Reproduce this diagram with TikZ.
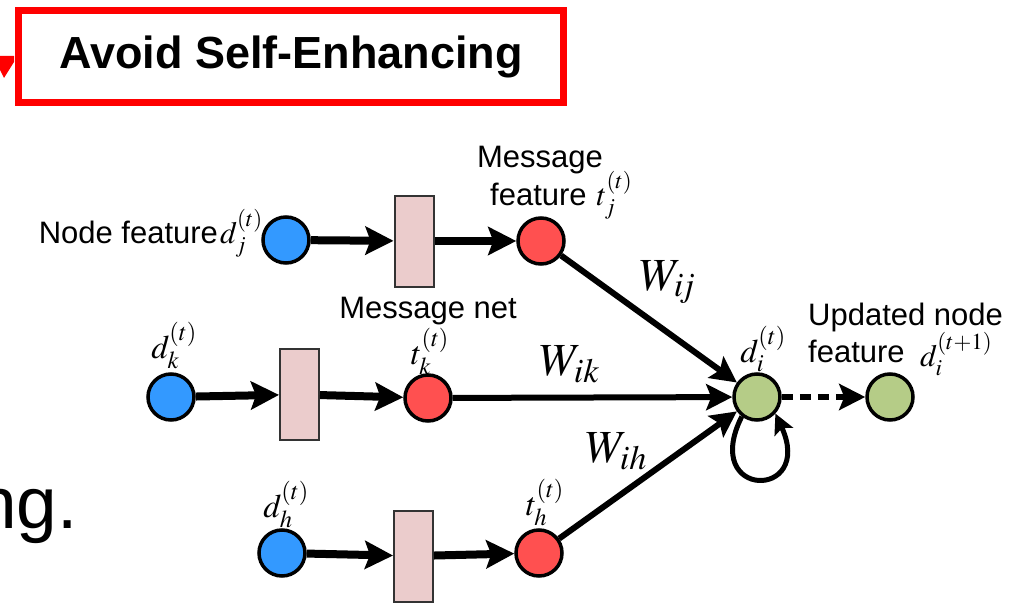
\documentclass[tikz,border=0pt]{standalone}
\usepackage{mathptmx}
\usepackage{fontspec}
\setmainfont{Liberation Sans}
\usetikzlibrary{arrows.meta,positioning}
\definecolor{featblue}{RGB}{51,153,255}
\definecolor{msgred}{RGB}{255,80,80}
\definecolor{updgreen}{RGB}{181,204,135}
\definecolor{netpink}{RGB}{235,204,204}
\tikzset{
  fnode/.style={circle, draw=black, line width=3.5pt, minimum size=46pt, inner sep=0pt},
  feat/.style={fnode, fill=featblue},
  msg/.style={fnode, fill=msgred},
  upd/.style={fnode, fill=updgreen},
  net/.style={rectangle, draw=black!80, line width=2pt, fill=netpink,
              minimum width=39pt, minimum height=91pt, inner sep=0pt},
  ar/.style={-{Stealth[length=28pt,width=28pt,inset=5pt]}, line width=8pt},
  arw/.style={-{Stealth[length=26pt,width=26pt,inset=5pt]}, line width=6pt},
  arl/.style={-{Stealth[length=26pt,width=26pt,inset=5pt]}, line width=6pt,
              dash pattern=on 11pt off 7pt},
  arloop/.style={-{Stealth[length=20pt,width=20pt,inset=4pt]}, line width=5pt},
  lbl/.style={font=\fontsize{31}{35}\selectfont, inner sep=0pt},
  mlbl/.style={font=\fontsize{33}{37}\selectfont, inner sep=0pt},
  wlbl/.style={font=\fontsize{46}{50}\selectfont, inner sep=0pt},
  titlebox/.style={rectangle, draw=red, line width=7pt, minimum width=545pt,
                   minimum height=92pt, inner sep=0pt,
                   font=\fontsize{45}{50}\selectfont\bfseries},
}

\begin{document}
\begin{tikzpicture}[x=1pt, y=-1pt]
\useasboundingbox (0,0) rectangle (1025,607);
\clip (0,0) rectangle (1025,607);

%% =====================================================================
%% slide remains: title box, arrow tip and cut-off text
%% =====================================================================
\fill[red] (0,56) -- (14,56) -- (14,62) -- (4,78) -- (0,70) -- cycle;
\node[titlebox] (ttl) at (291,56.5) {Avoid Self-Enhancing};
\node[font=\fontsize{73}{80}\selectfont, anchor=base east, inner sep=0pt] (ngtxt)
  at (78,528) {ng.};

%% =====================================================================
%% three rows: node feature -> message net -> message feature
%% =====================================================================
\node[feat] (dj) at (286,240) {};
\node[net]  (nj) at (414,241) {};
\node[msg]  (tj) at (541,241) {};

\node[feat] (dk) at (171,397) {};
\node[net]  (nk) at (299.5,394.5) {};
\node[msg]  (tk) at (428,398) {};

\node[feat] (dh) at (282,553) {};
\node[net]  (nh) at (413.5,556) {};
\node[msg]  (th) at (539,553) {};

%% updated node and its successor
\node[upd] (di) at (757,397) {};
\node[upd] (dn) at (890,397) {};

\draw[ar] (dj) -- (nj);
\draw[ar] (nj) -- (tj);
\draw[ar] (dk) -- (nk);
\draw[ar] (nk) -- (tk);
\draw[ar] (dh) -- (nh);
\draw[ar] (nh) -- (th);

%% weighted messages into d_i, self loop, update
\draw[arw] (tj) -- (di);
\draw[arw] (tk) -- (di);
\draw[arw] (th) -- (di);
\draw[arloop] (di.232) .. controls (700,500) and (815,500) .. (di.318);
\draw[arl] (di) -- (dn);

%% labels
\node[lbl, anchor=base east] (ndlbl) at (263,243) {Node feature\kern2pt$d_j^{(t)}$};
\node[lbl, anchor=base] (msglbl) at (540,167) {Message};
\node[lbl, anchor=base west] (featlbl) at (490,205) {feature\hspace{10pt}$t_j^{(t)}$};
\node[lbl, anchor=base] (netlbl) at (428,318) {Message net};
\node[mlbl, anchor=base] (dklbl) at (174,358) {$d_k^{(t)}$};
\node[mlbl, anchor=base] (tklbl) at (430,364) {$t_k^{(t)}$};
\node[mlbl, anchor=base] (dilbl) at (763,362) {$d_i^{(t)}$};
\node[lbl, anchor=base west] (updlbl) at (808,325) {Updated node};
\node[lbl, anchor=base west] (updfeat) at (808,362) {feature};
\node[mlbl, font=\fontsize{31}{35}\selectfont, anchor=base west] (dnlbl)
  at (920,366) {$d_i^{(t+1)}$};
\node[mlbl, anchor=base] (dhlbl) at (286,517) {$d_h^{(t)}$};
\node[mlbl, anchor=base] (thlbl) at (545,515) {$t_h^{(t)}$};

\node[wlbl, anchor=base west] (wij) at (640,290) {$W_{i\!j}$};
\node[wlbl, anchor=base west] (wik) at (540,375) {$W_{ik}$};
\node[wlbl, anchor=base west] (wih) at (586,462) {$W_{ih}$};

\end{tikzpicture}
\end{document}
